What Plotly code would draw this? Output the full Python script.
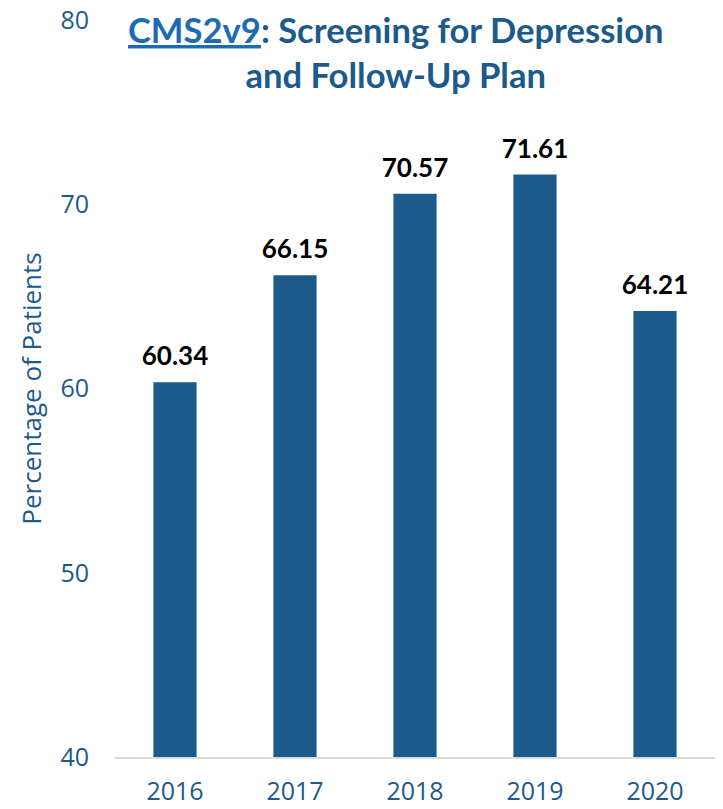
import plotly.graph_objects as go

years = ["2016", "2017", "2018", "2019", "2020"]
values = [60.34, 66.15, 70.57, 71.61, 64.21]
labels = ["60.34", "66.15", "70.57", "71.61", "64.21"]
y_ticks = [40, 50, 60, 70, 80]

blue = "#1C5A8C"
W, H = 723, 809
L, R, T, B = 115, 8, 20, 52

fig = go.Figure()
fig.add_trace(go.Bar(
    x=years, y=values,
    marker=dict(color=blue, line=dict(width=0)),
))
fig.add_trace(go.Scatter(
    x=years, y=values, mode="markers+text",
    text=[f"<b>{t}</b>" for t in labels], textposition="top center",
    textfont=dict(family="Lato", size=26, color="#000000"),
    marker=dict(size=15, opacity=0), cliponaxis=False, hoverinfo="skip",
))

title_x = (396 - L) / (W - L - R)
title_y = 1 - (52 - T) / (H - T - B)
fig.add_annotation(
    xref="paper", yref="paper", x=title_x, y=title_y,
    xanchor="center", yanchor="middle", showarrow=False,
    text="<b><span style='color:#1E6BB5'><u>CMS2v9</u></span>: Screening for Depression<br>and Follow-Up Plan</b>",
    font=dict(family="Lato", size=34.6, color=blue),
)

fig.update_layout(
    width=W, height=H,
    margin=dict(l=L, r=R, t=T, b=B),
    paper_bgcolor="white", plot_bgcolor="white",
    bargap=0.64,
    showlegend=False,
    font=dict(family="Open Sans"),
)
fig.update_yaxes(
    range=[40, 80], tickvals=y_ticks, showgrid=False, zeroline=False, showline=False,
    tickfont=dict(size=25, color=blue), ticklabelstandoff=25, automargin=False,
    title=dict(text="Percentage of Patients", font=dict(size=26, color=blue), standoff=11),
)
fig.update_xaxes(
    type="category", automargin=False,
    showline=True, linecolor="#D9D9D9", linewidth=2, showgrid=False,
    tickfont=dict(size=25, color=blue), ticklabelstandoff=11,
)
fig.write_html(
    "out.html",
    config={"displayModeBar": False},
    post_script="document.body.style.margin='0';document.body.style.overflow='hidden';",
)
